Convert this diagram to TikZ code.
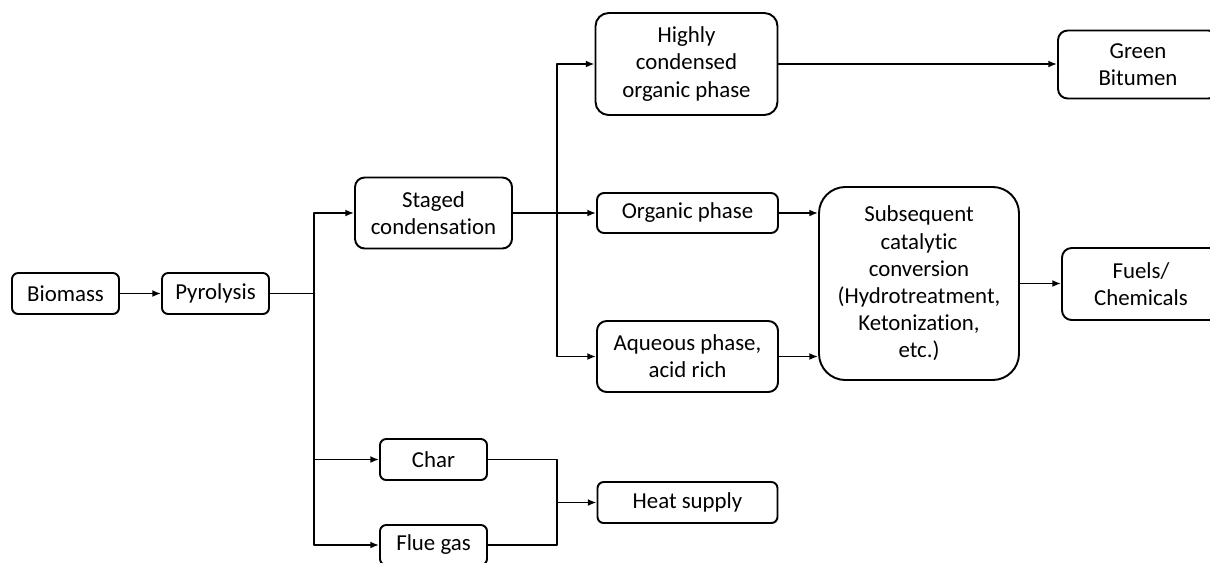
\documentclass[tikz,border=0pt]{standalone}
\usepackage{fontspec}
\setmainfont{Carlito}[Ligatures=NoCommon]
\usetikzlibrary{arrows.meta}

\begin{document}
\begin{tikzpicture}[x=0.02cm, y=-0.02cm, line width=1.1pt, line join=round, >={Latex[length=5pt,width=4pt]},
    box/.style={draw, rounded corners=3.5pt, align=center, inner sep=0pt, font=\fontsize{13}{15.5}\selectfont},
    sz/.style 2 args={minimum width=#1*0.02cm, minimum height=#2*0.02cm}]
    \useasboundingbox (0,0) rectangle (1210,562);
    \clip (0,0) rectangle (1210,562);
    % ============= HỘP
    \node[box, sz={107}{41}] (bio) at (65.5,293.5) {Biomass};
    \node[box, sz={107}{41}] (pyr) at (215.5,293.5) {Pyrolysis};
    \node[box, sz={157}{71}, rounded corners=5.5pt] (stg) at (433.5,213) {Staged\\condensation};
    \node[box, sz={182}{102}, rounded corners=7.5pt] (hco) at (686.5,64) {Highly\\condensed\\organic phase};
    \node[box, sz={181}{40}, rounded corners=4pt] (org) at (687.5,213) {Organic phase};
    \node[box, sz={181}{71}, rounded corners=5.5pt] (aqu) at (687.5,356.5) {Aqueous phase,\\acid rich};
    \node[box, sz={200}{193}, rounded corners=15pt] (sub) at (919,283.5) {Subsequent\\catalytic\\conversion\\(Hydrotreatment,\\Ketonization,\\etc.)};
    \node[box, sz={160}{68}, rounded corners=5.5pt] (grn) at (1138,64.5) {Green\\Bitumen};
    \node[box, sz={158}{72}, rounded corners=5.5pt] (fue) at (1141,284) {Fuels/\\Chemicals};
    \node[box, sz={107}{41}] (chr) at (433.5,459.5) {Char};
    \node[box, sz={107}{40}] (flu) at (433.5,545) {Flue gas};
    \node[box, sz={180}{41}] (hea) at (687.5,502.5) {Heat supply};
    % ============= NÚT RẼ
    \coordinate (j1) at (314,293.5);
    \coordinate (j2) at (557,213);
    \coordinate (j3) at (557,502.5);
    % ============= MŨI TÊN
    \draw[->] (bio) -- (pyr);
    \draw (pyr) -- (j1);
    \foreach \t in {stg,chr,flu}{\draw[->] (j1) |- (\t);}
    \draw[->] (stg) -- (org);
    \foreach \t in {hco,aqu}{\draw[->] (j2) |- (\t);}
    \draw[->] (hco) -- (hco -| grn.west);
    \foreach \s in {org,aqu}{\draw[->] (\s) -- (\s -| sub.west);}
    \draw[->] (sub) -- (sub -| fue.west);
    \draw (chr) -| (j3) |- (flu);
    \draw[->] (j3) -- (hea);
\end{tikzpicture}
\end{document}
